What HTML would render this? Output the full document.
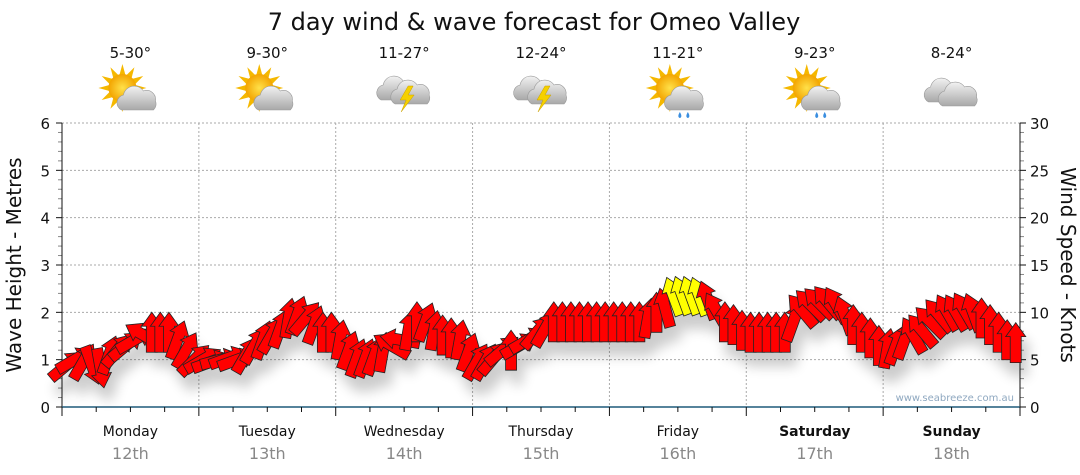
<!DOCTYPE html>
<html><head><meta charset="utf-8"><style>
html,body{margin:0;padding:0;background:#fff;}
svg{display:block;font-family:"DejaVu Sans","Liberation Sans",sans-serif;}
</style></head><body>
<svg id="chart" width="1080" height="475" viewBox="0 0 1080 475" xmlns="http://www.w3.org/2000/svg">
<defs>
<filter id="shadow" x="-20%" y="-50%" width="140%" height="220%">
<feGaussianBlur in="SourceAlpha" stdDeviation="6"/>
<feOffset dx="6" dy="14" result="b"/>
<feComponentTransfer><feFuncA type="linear" slope="0.2"/></feComponentTransfer>
<feMerge><feMergeNode/><feMergeNode in="SourceGraphic"/></feMerge>
</filter>
<radialGradient id="sunG" cx="0.5" cy="0.5" r="0.5"><stop offset="0" stop-color="#ffe14a"/><stop offset="1" stop-color="#f3a400"/></radialGradient>
<linearGradient id="cloudG" x1="0" y1="0" x2="0" y2="1"><stop offset="0" stop-color="#f2f2f2"/><stop offset="1" stop-color="#a8a8a8"/></linearGradient>
</defs>
<text x="534" y="30" font-size="24" text-anchor="middle" fill="#111">7 day wind &amp; wave forecast for Omeo Valley</text>
<g id="grid"></g>
<g id="axes"></g>
<g id="icons"></g>
<g id="arrows" filter="url(#shadow)"></g>
<text transform="translate(21,265) rotate(-90)" font-size="20" text-anchor="middle" fill="#111">Wave Height - Metres</text>
<text transform="translate(1061,265) rotate(90)" font-size="20" text-anchor="middle" fill="#111">Wind Speed - Knots</text>
<text x="1014" y="401" font-size="10" text-anchor="end" fill="#8fa8c0">www.seabreeze.com.au</text>
</svg>
<script>
const days = ["Monday","Tuesday","Wednesday","Thursday","Friday","Saturday","Sunday"];
const dates = ["12th","13th","14th","15th","16th","17th","18th"];
const temps = ["5-30°","9-30°","11-27°","12-24°","11-21°","9-23°","8-24°"];
const icons = ["sun-cloud","sun-cloud","storm","storm","sun-rain","sun-rain","cloud"];
const waveTicks = [0,1,2,3,4,5,6];
const knotTicks = [0,5,10,15,20,25,30];
const windKnots = [
4.4,5.0,4.8,4.4,4.1,5.5,6.0,6.5,7.1,7.6,7.9,7.9,7.9,7.1,6.0,5.0,
5.0,4.8,5.0,5.2,5.0,5.5,6.5,7.1,7.6,8.3,9.4,9.7,9.4,8.7,7.9,7.9,
7.1,6.0,5.2,5.2,5.4,5.8,6.5,7.1,8.1,9.0,9.0,8.1,7.6,7.3,7.1,5.8,
4.8,4.8,5.2,6.0,6.0,6.5,7.1,7.9,8.3,9.0,9.0,9.0,9.0,9.0,9.0,9.0,
9.0,9.0,9.0,9.0,9.4,10.0,10.5,11.7,11.8,11.8,11.7,11.3,10.2,9.0,8.7,8.1,
7.9,7.9,7.9,7.9,7.9,9.0,10.2,10.8,11.0,11.1,10.8,9.7,8.7,7.9,7.3,6.5,
6.2,6.5,7.1,7.6,8.1,9.0,9.7,10.0,10.0,10.2,10.0,9.4,8.7,7.9,7.1,6.8];
const windDir = [
50,60,30,160,170,20,40,50,60,300,0,0,0,20,30,45,
60,70,75,70,70,30,30,20,30,20,10,20,40,20,0,0,
10,20,20,20,20,10,300,280,10,0,20,10,0,0,10,20,
30,30,40,50,0,60,60,40,30,0,0,0,0,0,0,0,
0,0,0,0,10,0,345,340,340,340,340,340,330,0,0,0,
0,0,0,0,0,20,320,315,315,320,330,340,0,0,0,0,
10,20,20,330,320,315,320,330,330,330,340,0,0,0,0,0];

const X0=62, X1=1020, Y0=407, Y1=123;
const dayW=(X1-X0)/7;
const yWave=v=>Y0-(v/6)*(Y0-Y1);
const yKnot=v=>Y0-(v/30)*(Y0-Y1);
const xIdx=i=>X0+(i+0.5)*(X1-X0)/windKnots.length;
const NS="http://www.w3.org/2000/svg";
function mk(tag,attrs,parent){const e=document.createElementNS(NS,tag);for(const k in attrs)e.setAttribute(k,attrs[k]);parent.appendChild(e);return e;}
const grid=document.getElementById('grid'), axes=document.getElementById('axes'), ic=document.getElementById('icons'), ar=document.getElementById('arrows');

waveTicks.forEach((v,i)=>{
  if(v>0){const g=mk('line',{x1:X0,x2:X1,y1:yWave(v),y2:yWave(v),stroke:'#aaa','stroke-dasharray':'2,2'},grid);
  
  }
  const t=mk('text',{x:50,y:yWave(v)+6,'font-size':15,'text-anchor':'end',fill:'#111'},axes);
  t.textContent=v;
  
  
});
knotTicks.forEach(v=>{
  const t=mk('text',{x:1030,y:yKnot(v)+6,'font-size':15,fill:'#111'},axes);
  t.textContent=v;
  
  
});
for(let k=0;k<=30;k++){const y=yKnot(k);const long=k%5===0;
  mk('line',{x1:X1,x2:X1+(long?6:4),y1:y,y2:y,stroke:long?'#111':'#888'},axes);
  mk('line',{x1:X0-(long?6:4),x2:X0,y1:y,y2:y,stroke:long?'#111':'#888'},axes);}
for(let d=1;d<7;d++){const x=X0+d*dayW;
  const g=mk('line',{x1:x,x2:x,y1:Y1,y2:Y0,stroke:'#aaa','stroke-dasharray':'2,2'},grid);
  
  }
mk('line',{x1:X0,x2:X0,y1:Y1,y2:Y0,stroke:'#111'},axes);
mk('line',{x1:X1,x2:X1,y1:Y1,y2:Y0,stroke:'#111'},axes);
mk('line',{x1:X0,x2:X1,y1:Y0,y2:Y0,stroke:'#1f5a7a','stroke-width':1.5},axes);
for(let q=0;q<=28;q++){const x=X0+q*dayW/4;mk('line',{x1:x,x2:x,y1:Y0,y2:Y0+(q%4===0?9:5),stroke:'#111'},axes);}
days.forEach((d,i)=>{const cx=X0+(i+0.5)*dayW;
  const t=mk('text',{x:cx,y:436,'font-size':14,'text-anchor':'middle',fill:'#111','font-weight':i>=5?'bold':'normal'},axes);
  t.textContent=d;
  
  
  const t2=mk('text',{x:cx,y:459,'font-size':16,'text-anchor':'middle',fill:'#888'},axes);
  t2.textContent=dates[i];
  
  
  const t3=mk('text',{x:cx,y:58,'font-size':15,'text-anchor':'middle',fill:'#111'},ic);
  t3.textContent=temps[i];
  
  
  const g=mk('g',{transform:`translate(${cx},92)`},ic);
  
  
  const type=icons[i];
  const cloud=(dx,dy)=>{mk('path',{d:`M${dx-17},${dy+10} a8 8 0 0 1 2,-15 a11 11 0 0 1 20,-4 a9 9 0 0 1 12,10 a8 8 0 0 1 -2,9 z`,fill:'url(#cloudG)',stroke:'#999','stroke-width':0.6},g);};
  if(type==='sun-cloud'||type==='sun-rain'){
    for(let r=0;r<12;r++){const a=r*30*Math.PI/180;mk('polygon',{points:`${-8+Math.cos(a)*13-Math.sin(a)*3},${-4+Math.sin(a)*13+Math.cos(a)*3} ${-8+Math.cos(a)*24},${-4+Math.sin(a)*24} ${-8+Math.cos(a)*13+Math.sin(a)*3},${-4+Math.sin(a)*13-Math.cos(a)*3}`,fill:'#f5b800'},g);}
    mk('circle',{cx:-8,cy:-4,r:14,fill:'url(#sunG)'},g);
    cloud(8,8);
    if(type==='sun-rain'){[2,10].forEach(dx=>mk('path',{d:`M${dx},20 q-3,5 0,6 q3,-1 0,-6z`,fill:'#3a8ee0'},g));}
  } else if(type==='storm'){
    cloud(-6,-2);cloud(8,2);
    mk('polygon',{points:'4,-6 -4,8 2,8 -3,20 10,3 4,3 9,-6',fill:'#f5d000',stroke:'#c9a000','stroke-width':0.5},g);
  } else {cloud(-6,0);cloud(8,4);}
});
const arrowPath='M0,-20 L10,-6 L5.5,-6 L5.5,20 L-5.5,20 L-5.5,-6 L-10,-6 Z';
windKnots.forEach((k,i)=>{
  const p=mk('path',{d:arrowPath,transform:`translate(${xIdx(i)},${yKnot(k)}) rotate(${windDir[i]})`,fill:k>=11.5?'#ffff00':'#ff0000',stroke:'#222','stroke-width':0.8,'stroke-linejoin':'miter'},ar);
  
  
});
</script>
</body></html>
